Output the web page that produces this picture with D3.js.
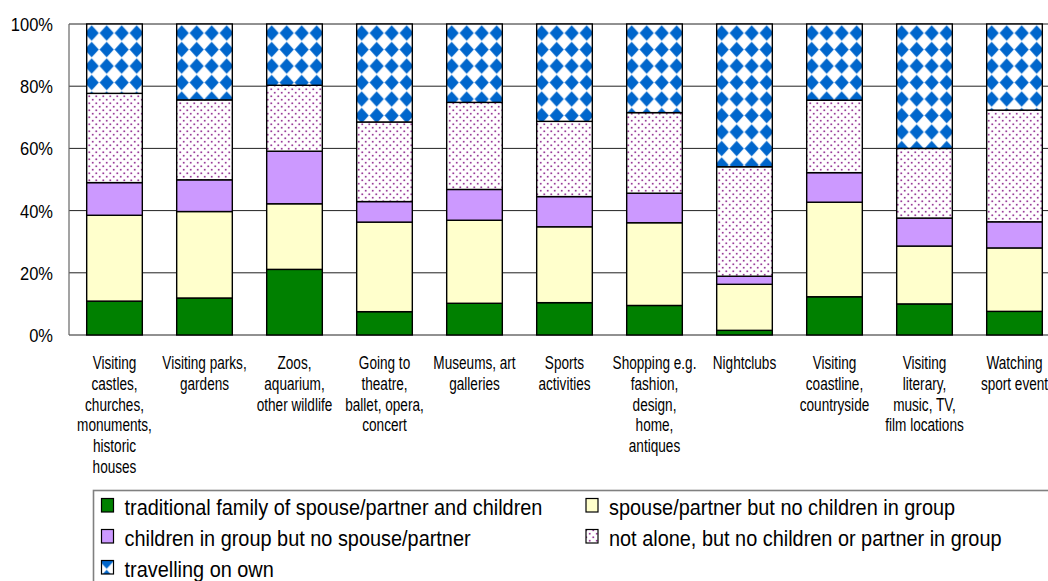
<!DOCTYPE html>
<html>
<head>
<meta charset="utf-8">
<script src="https://cdn.jsdelivr.net/npm/d3@7"></script>
<style>
  body { margin: 0; background: #fff; }
  svg { display: block; }
  text { font-family: "Liberation Sans", Arial, sans-serif; fill: #000; }
</style>
</head>
<body>
<svg id="chart" width="1048" height="581"></svg>
<script>
// Activity categories (line breaks as in the axis labels)
const categories = [
  "Visiting\ncastles,\nchurches,\nmonuments,\nhistoric\nhouses",
  "Visiting parks,\ngardens",
  "Zoos,\naquarium,\nother wildlife",
  "Going to\ntheatre,\nballet, opera,\nconcert",
  "Museums, art\ngalleries",
  "Sports\nactivities",
  "Shopping e.g.\nfashion,\ndesign,\nhome,\nantiques",
  "Nightclubs",
  "Visiting\ncoastline,\ncountryside",
  "Visiting\nliterary,\nmusic, TV,\nfilm locations",
  "Watching\nsport event"
];

// Series names, bottom to top
const seriesNames = [
  "traditional family of spouse/partner and children",
  "spouse/partner but no children in group",
  "children in group but no spouse/partner",
  "not alone, but no children or partner in group",
  "travelling on own"
];

// Shares (%) per category, one array per series
const familyWithChildren   = [10.9, 11.9, 21.1,  7.5, 10.2, 10.4,  9.5,  1.5, 12.3, 10.0,  7.6];
const partnerNoChildren    = [27.6, 27.8, 21.1, 28.8, 26.7, 24.4, 26.6, 14.8, 30.4, 18.6, 20.4];
const childrenNoPartner    = [10.5, 10.2, 16.9,  6.6,  9.9,  9.7,  9.5,  2.6,  9.5,  9.0,  8.4];
const notAloneNoFamily     = [28.7, 25.7, 21.2, 25.6, 28.0, 24.2, 25.9, 35.2, 23.3, 22.4, 35.9];
const travellingOnOwn      = [22.3, 24.4, 19.7, 31.5, 25.2, 31.3, 28.5, 45.9, 24.5, 40.0, 27.7];

const yTickValues = [0, 20, 40, 60, 80, 100];
const yTickLabels = ["0%", "20%", "40%", "60%", "80%", "100%"];

const seriesValues = [familyWithChildren, partnerNoChildren, childrenNoPartner, notAloneNoFamily, travellingOnOwn];
const keys = ["k0", "k1", "k2", "k3", "k4"];
const rows = categories.map((c, i) => {
  const r = { cat: c };
  keys.forEach((k, j) => r[k] = seriesValues[j][i]);
  return r;
});

const svg = d3.select("#chart");
const defs = svg.append("defs");

// soft edge for the pattern artwork
defs.append("filter").attr("id", "soft").attr("x", "-20%").attr("y", "-20%").attr("width", "140%").attr("height", "140%")
  .append("feGaussianBlur").attr("stdDeviation", 0.65);

// blue diamond lattice
const dia = defs.append("pattern").attr("id", "diamonds")
  .attr("patternUnits", "userSpaceOnUse")
  .attr("x", 84.2).attr("y", 24.8).attr("width", 15).attr("height", 16.5);
dia.append("rect").attr("width", 15).attr("height", 16.5).attr("fill", "#fff");
dia.append("path").attr("d", "M7.5,0.6 L14.6,8.25 L7.5,15.9 L0.4,8.25 Z")
  .attr("fill", "#0066CC").attr("filter", "url(#soft)");

// small purple dots, staggered
const dots = defs.append("pattern").attr("id", "dots")
  .attr("patternUnits", "userSpaceOnUse")
  .attr("x", 0).attr("y", 0).attr("width", 7).attr("height", 7);
dots.append("rect").attr("width", 7).attr("height", 7).attr("fill", "#fff");
[[1.75, 1.75], [5.25, 5.25]].forEach(([cx, cy]) => {
  dots.append("circle").attr("cx", cx).attr("cy", cy).attr("r", 1.3).attr("fill", "#e6c6e6");
  dots.append("circle").attr("cx", cx).attr("cy", cy).attr("r", 0.8).attr("fill", "#8a2a8a");
});

const fills = ["#008000", "#FFFFCC", "#CC99FF", "url(#dots)", "url(#diamonds)"];

const x = d3.scaleBand().domain(categories).range([69.5, 1059.5])
  .paddingInner(0.382).paddingOuter(0.191);
const y = d3.scaleLinear().domain([0, 100]).range([335, 24]);

// gridlines
svg.append("g").selectAll("line").data(yTickValues).join("line")
  .attr("x1", 69).attr("x2", 1048)
  .attr("y1", d => y(d)).attr("y2", d => y(d))
  .attr("stroke", "#222").attr("stroke-width", 1);

// vertical axis line
svg.append("line").attr("x1", 69).attr("x2", 69).attr("y1", y(100)).attr("y2", y(0))
  .attr("stroke", "#666").attr("stroke-width", 1.2);

// helper: text stretched vertically
function stretchText(parent, tx, ty, str, size, sy, anchor) {
  parent.append("g").attr("transform", `translate(${tx},${ty}) scale(1,${sy})`)
    .append("text").attr("font-size", size).attr("text-anchor", anchor).text(str);
}

// y tick labels
const yLab = svg.append("g");
yTickValues.forEach((v, i) => stretchText(yLab, 53, y(v) + 7, yTickLabels[i], 16.5, 1.15, "end"));

// stacked bars
const stack = d3.stack().keys(keys)(rows);
const bars = svg.append("g");
stack.forEach((layer, li) => {
  bars.append("g").selectAll("rect").data(layer).join("rect")
    .attr("x", d => x(d.data.cat))
    .attr("width", x.bandwidth())
    .attr("y", d => y(d[1]))
    .attr("height", d => y(d[0]) - y(d[1]))
    .attr("fill", fills[li])
    .attr("stroke", "#000").attr("stroke-width", 1.4);
});

// category labels
const xLab = svg.append("g");
categories.forEach(c => {
  const cx = x(c) + x.bandwidth() / 2;
  c.split("\n").forEach((line, i) => stretchText(xLab, cx, 369 + i * 20.8, line, 13.6, 1.36, "middle"));
});

// legend
const lg = svg.append("g");
lg.append("rect").attr("x", 93.5).attr("y", 490.5).attr("width", 1000).attr("height", 120)
  .attr("fill", "none").attr("stroke", "#808080").attr("stroke-width", 1.6);
const legendPos = [
  [101.5, 515], [586, 515],
  [101.5, 546], [586, 546],
  [101.5, 577]
];
seriesNames.forEach((name, i) => {
  const [lx, ly] = legendPos[i];
  lg.append("rect").attr("x", lx).attr("y", ly - 16.5).attr("width", 12).attr("height", 13.5)
    .attr("fill", fills[i]).attr("stroke", "#000").attr("stroke-width", 1.2);
  stretchText(lg, lx + 23, ly, name, 19.9, 1.14, "start");
});
</script>
</body>
</html>
